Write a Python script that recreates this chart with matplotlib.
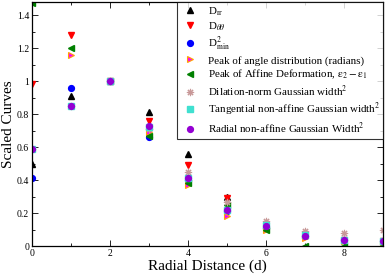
import matplotlib
matplotlib.use("Agg")
import matplotlib.pyplot as plt
from matplotlib.ticker import MultipleLocator, FuncFormatter

plt.rcParams['font.family'] = ['Liberation Serif', 'DejaVu Serif']
plt.rcParams['mathtext.fontset'] = 'stix'

x_all = [0, 1, 2, 3, 4, 5, 6, 7, 8, 9]
x_from1 = [1, 2, 3, 4, 5, 6, 7, 8, 9]

d_rr = [0.50, 0.91, 1.0, 0.81, 0.56, 0.30, 0.12, 0.07, 0.04, 0.03]
d_tt = [0.98, 1.28, 1.0, 0.76, 0.49, 0.29, 0.12, 0.07, 0.04, 0.03]
d2min = [0.415, 0.96, 1.0, 0.66, 0.40, 0.21, 0.11, 0.06, 0.04, 0.03]
peak_angle = [1.16, 1.0, 0.69, 0.37, 0.18, 0.10, 0.05, 0.03, 0.02]
peak_affine = [1.475, 1.20, 1.0, 0.67, 0.38, 0.25, 0.10, 0.0, 0.0, 0.0]
dilation = [0.59, 0.85, 1.0, 0.71, 0.45, 0.27, 0.15, 0.09, 0.08, 0.10]
tangential = [0.59, 0.85, 1.0, 0.72, 0.41, 0.22, 0.13, 0.07, 0.04, 0.03]
radial = [0.59, 0.85, 1.0, 0.73, 0.41, 0.22, 0.12, 0.06, 0.04, 0.03]

labels = [r'D$_{\mathrm{rr}}$', r'D$_{\theta\theta}$', r'D$^{2}_{\mathrm{min}}$',
          'Peak of angle distribution (radians)',
          r'Peak of Affine Deformation, $\mathrm{\epsilon}_{2} - \mathrm{\epsilon}_{1}$',
          r'Dilation-norm Gaussian width$^{2}$',
          r'Tangential non-affine Gaussian width$^{2}$',
          r'Radial non-affine Gaussian Width$^{2}$']

fig = plt.figure(figsize=(3.88, 2.75), dpi=100)
ax = fig.add_axes([0.0825, 0.105, 0.905, 0.888])

ms = 4.2
ax.plot(x_all, d_rr, ls='none', marker='^', color='black', ms=ms, label=labels[0])
ax.plot(x_all, d_tt, ls='none', marker='v', color='red', ms=ms, label=labels[1])
ax.plot(x_all, d2min, ls='none', marker='o', color='blue', ms=ms, label=labels[2])
ax.plot(x_from1, peak_angle, ls='none', marker='>', mfc='#ff00ff', mec='#ffa500', mew=0.8, ms=ms, label=labels[3])
ax.plot(x_all, peak_affine, ls='none', marker='<', color='#008000', ms=ms, label=labels[4])
ax.plot(x_all, dilation, ls='none', marker=(8, 2, 0), color='#c89898', mew=0.8, ms=ms + 1, label=labels[5])
ax.plot(x_all, tangential, ls='none', marker='s', color='#40e0d0', ms=ms, label=labels[6])
ax.plot(x_all, radial, ls='none', marker='o', color='#9400d3', ms=ms, label=labels[7])

ax.set_xlim(0, 9)
ax.set_ylim(0, 1.48)
ax.xaxis.set_major_locator(MultipleLocator(2))
ax.xaxis.set_minor_locator(MultipleLocator(1))
ax.yaxis.set_major_locator(MultipleLocator(0.2))
ax.yaxis.set_minor_locator(MultipleLocator(0.1))
ax.yaxis.set_major_formatter(FuncFormatter(lambda v, p: '%g' % round(v, 2)))
ax.tick_params(which='both', direction='in', top=True, right=True, labelsize=7, pad=2)
ax.tick_params(which='major', length=4, width=0.6)
ax.tick_params(which='minor', length=2, width=0.6)
for s in ax.spines.values():
    s.set_linewidth(0.9)

ax.set_xlabel('Radial Distance (d)', fontsize=11, labelpad=1)
ax.set_ylabel('Scaled Curves', fontsize=11, labelpad=1)

leg = ax.legend(loc='upper right', fontsize=7.9, frameon=True, fancybox=False,
                borderaxespad=0, handletextpad=0.7, labelspacing=0.22,
                borderpad=0.3, handlelength=1.8, numpoints=1)
leg.get_frame().set_edgecolor('black')
leg.get_frame().set_linewidth(0.8)

fig.savefig('out.png', dpi=100)
